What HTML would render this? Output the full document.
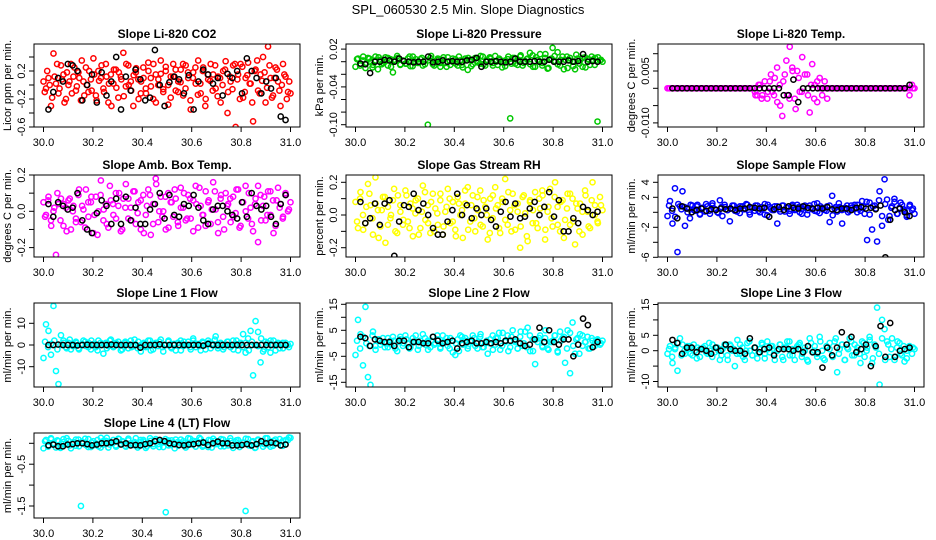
<!DOCTYPE html>
<html><head><meta charset="utf-8"><style>
html,body{margin:0;padding:0;background:#fff;}
svg{display:block;font-family:"Liberation Sans",Arial,sans-serif;}
</style></head><body>
<svg id="chart" width="936" height="540" viewBox="0 0 936 540" xmlns="http://www.w3.org/2000/svg">
<rect width="936" height="540" fill="#fff"/>
<text x="468" y="14" text-anchor="middle" font-size="13">SPL_060530  2.5 Min. Slope Diagnostics</text>
</svg>
<script>
// ---- data ----
const xTicks=[30.0,30.2,30.4,30.6,30.8,31.0];
const xTickLabels=["30.0","30.2","30.4","30.6","30.8","31.0"];
const panelTitles=["Slope Li-820 CO2","Slope Li-820 Pressure","Slope Li-820 Temp.","Slope Amb. Box Temp.","Slope Gas Stream RH","Slope Sample Flow","Slope Line 1 Flow","Slope Line 2 Flow","Slope Line 3 Flow","Slope Line 4 (LT) Flow"];
const yAxisTitles=["Licor ppm per min.","kPa per min.","degrees C per min.","degrees C per min.","percent per min.","ml/min per min.","ml/min per min.","ml/min per min.","ml/min per min.","ml/min per min."];
const co2Color=[0.05,-0.05,0.1,-0.3,0.45,0.02,-0.12,0.28,0.15,-0.2,0.0,0.3,0.12,-0.08,0.18,-0.22,0.05,0.25,-0.1,0.08,0.38,-0.15,0.2,0.1,-0.05,0.3,-0.25,0.15,0.02,0.22,-0.18,0.12,0.46,-0.02,0.28,0.05,-0.3,0.18,0.08,-0.12,0.25,-0.05,0.32,0.1,-0.2,0.15,0.0,0.35,-0.1,0.2,-0.28,0.12,0.3,-0.08,0.05,0.22,-0.15,0.28,0.1,-0.35,0.18,0.02,0.35,-0.12,0.25,-0.2,0.08,0.3,0.15,-0.05,0.12,-0.25,0.2,0.34,-0.1,0.05,0.28,-0.6,0.15,0.3,-0.18,0.1,0.32,0.02,-0.52,0.22,-0.08,0.15,0.4,-0.25,0.55,0.1,-0.15,0.25,0.05,-0.3,0.3,0.12,-0.1,-0.12];
const co2Color2=[-0.1,0.2,0.0,-0.18,0.12,0.3,-0.05,0.08,-0.25,0.18,0.05,-0.12,0.25,-0.02,0.1,0.35,-0.15,0.0,0.2,-0.08,0.15,-0.22,0.06,0.28,-0.1,0.12,0.02,-0.3,0.22,-0.04,0.18,0.08,-0.16,0.3,0.0,-0.08,0.14,0.24,-0.2,0.05,0.1,-0.12,0.2,-0.02,0.3,-0.25,0.08,0.16,-0.06,0.26,0.0,-0.18,0.12,0.22,-0.1,0.04,0.3,-0.05,0.18,-0.22,0.1,0.25,-0.14,0.02,0.2,-0.3,0.15,0.06,-0.08,0.28,-0.16,0.1,0.0,0.22,-0.4,0.12,-0.06,0.3,0.08,-0.2,0.26,-0.1,0.14,0.02,-0.25,0.2,0.35,-0.12,0.06,0.18,-0.04,0.28,-0.18,0.1,0.22,-0.08,0.0,0.15,-0.2,0.05];
const co2Black=[-0.35,-0.1,0.1,0.05,0.3,0.28,0.2,-0.22,0.0,0.15,-0.25,0.18,-0.15,0.05,0.4,-0.35,0.12,-0.08,0.22,0.08,-0.22,-0.18,0.5,0.0,-0.3,0.04,0.12,0.08,-0.12,0.14,-0.35,0.05,0.22,0.15,0.02,0.1,-0.15,0.16,0.1,0.2,-0.12,0.38,0.2,0.1,-0.12,0.05,-0.05,0.1,-0.45,-0.5];
const presColor=[-0.008,0.005,-0.003,0.002,-0.01,0.006,0.0,-0.005,0.008,-0.012,0.003,-0.002,0.007,-0.006,0.004,-0.017,0.001,0.006,-0.004,0.002,-0.003,0.005,-0.007,0.008,0.0,-0.002,0.004,-0.006,0.002,-0.1,0.006,-0.004,0.001,0.005,-0.008,0.003,-0.002,0.007,-0.005,0.0,0.004,-0.006,0.002,-0.009,0.005,-0.013,0.003,-0.004,0.006,0.001,-0.003,0.008,-0.006,0.002,0.005,-0.002,0.009,-0.005,0.003,0.0,-0.007,0.004,-0.09,0.006,-0.003,0.002,0.008,-0.006,0.001,0.005,-0.004,0.01,-0.008,0.003,0.012,-0.002,0.006,-0.011,0.004,0.022,0.001,0.015,-0.006,0.008,0.003,-0.01,0.006,0.0,-0.012,0.005,0.002,-0.008,0.007,0.004,-0.005,0.003,0.006,-0.095,0.002,0.0];
const presColor2=[0.004,-0.006,0.008,-0.002,0.005,-0.009,0.002,0.007,-0.004,0.0,0.006,-0.008,0.003,0.009,-0.005,0.001,-0.003,0.008,-0.007,0.004,-0.001,0.006,-0.004,0.002,0.009,-0.006,0.003,-0.002,0.007,-0.008,0.001,0.005,-0.003,0.008,-0.005,0.002,0.006,-0.007,0.004,-0.001,0.009,-0.004,0.003,0.007,-0.006,0.0,0.005,-0.009,0.002,0.008,-0.003,0.006,-0.005,0.01,-0.002,0.004,0.014,-0.008,0.007,0.001,-0.006,0.012,-0.01,0.005,0.009,-0.004,0.003,-0.012,0.008,0.002,-0.007,0.011,-0.003,0.006,-0.009,0.004,0.008,-0.005,0.007,0.003];
const presBlack=[-0.003,-0.004,-0.018,0.0,0.0,0.003,0.002,0.0,0.005,0.001,0.0,-0.001,0.0,0.0,0.008,-0.001,0.0,0.002,0.0,0.001,0.0,0.0,0.002,0.003,0.006,-0.008,0.0,0.0,0.001,0.0,-0.001,0.0,0.005,0.0,0.0,0.0,0.001,0.0,0.0,0.003,0.0,0.0,0.0,0.002,0.0,0.001,0.012,0.0,0.001,0.0];
const tempColor=[0,0,0,0,0,0,0,0,0,0,0,0,0,0,0,0,0,0,0,0,0,0,0,0,0,0,0,0,0,0,0,0,0,0,0,-0.001,-0.002,0.001,-0.002,0.0,-0.003,0.002,-0.001,0.003,-0.004,0.001,-0.008,0.004,-0.002,0.012,0.006,-0.003,0.005,-0.001,0.009,-0.012,0.004,-0.007,0.007,0.001,-0.004,0.003,-0.002,0.002,-0.003,0,0,0,0,0,0,0,0,0,0,0,0,0,0,0,0,0,0,0,0,0,0,0,0,0,0,0,0,0,0,0,0,-0.002,0.001,0];
const tempColor2=[0,0,0,0,0,0,0,0,0,0,0,0,0,0,0,0,0,0,0,0,0,0,0,0,0,0,0,0,-0.002,0.001,-0.003,0.002,-0.001,0.004,-0.002,0.006,-0.005,0.002,0.008,-0.003,0.005,-0.006,0.003,-0.001,0.004,-0.002,0.001,-0.003,0.002,0,0,0,0,0,0,0,0,0,0,0,0,0,0,0,0,0,0,0,0,0,0,0,0,0,0,0,0,0,0,0];
const tempBlack=[0,0,0,0,0,0,0,0,0,0,0,0,0,0,0,0,0,0,0,0,0,0,0,-0.002,-0.002,0.0025,-0.004,0,0,0,0,0,0,0,0,0,0,0,0,0,0,0,0,0,0,0,0,0,0,0.001];
const ambColor=[0.05,-0.02,0.08,-0.05,0.0,-0.24,0.04,0.07,-0.08,0.02,0.06,-0.1,0.03,-0.04,0.09,-0.06,0.01,0.12,-0.03,0.05,-0.12,0.08,0.0,0.17,-0.05,0.04,-0.09,0.06,-0.02,0.1,0.03,-0.11,0.07,0.15,-0.04,0.02,0.11,-0.07,0.05,-0.1,0.09,-0.02,0.12,-0.13,0.04,0.18,-0.06,0.08,0.0,-0.1,0.1,0.05,-0.03,0.07,-0.08,0.13,0.02,-0.05,0.09,-0.04,0.06,0.14,-0.09,0.03,-0.02,0.11,0.05,-0.07,0.16,0.01,-0.12,0.07,-0.03,0.1,0.04,-0.06,0.08,-0.01,0.12,-0.08,0.05,0.14,-0.04,0.02,-0.11,0.07,-0.17,0.09,0.03,-0.05,0.11,-0.02,0.06,-0.08,0.13,0.04,-0.03,0.1,0.0,0.05];
const ambColor2=[-0.03,0.06,-0.08,0.02,0.1,-0.05,0.04,-0.11,0.07,0.0,-0.06,0.12,0.03,-0.09,0.05,0.08,-0.02,-0.13,0.09,0.01,-0.07,0.14,0.04,-0.04,0.1,-0.1,0.02,0.07,-0.05,0.11,-0.01,0.06,-0.12,0.03,0.09,-0.07,0.15,0.0,-0.03,0.08,-0.09,0.05,0.12,-0.06,0.02,0.1,-0.04,0.07,-0.11,0.04,0.13,-0.02,-0.08,0.06,0.01,0.11,-0.06,0.09,-0.1,0.03,0.07,-0.03,0.12,-0.09,0.05,0.0,0.1,-0.07,0.04,0.14,-0.05,0.08,-0.02,0.11,-0.12,0.06,0.02,-0.04,0.09,0.01];
const ambBlack=[0.04,-0.03,0.05,0.03,0.01,0.02,0.1,-0.05,-0.1,-0.12,-0.01,0.06,0.03,-0.07,0.07,-0.07,0.08,-0.05,0.02,-0.07,-0.07,0.01,0.04,0.1,-0.04,0.09,-0.02,-0.03,0.04,0.03,0.09,0.02,-0.05,-0.07,0.01,0.03,0.03,0.0,-0.02,-0.04,0.05,-0.03,0.1,0.03,0.01,0.03,-0.03,-0.07,0.04,0.09];
const rhColor=[0.08,-0.08,0.14,0.0,-0.05,0.19,0.06,-0.12,0.23,0.03,-0.07,0.11,-0.17,0.05,-0.02,0.09,-0.1,0.12,0.02,-0.06,0.15,-0.04,0.07,-0.13,0.01,0.1,-0.08,0.18,-0.03,0.06,-0.11,0.13,0.04,-0.06,0.09,-0.12,0.02,0.16,-0.05,0.08,-0.09,0.11,0.0,-0.14,0.07,0.17,-0.04,0.12,-0.1,0.03,0.15,-0.07,0.05,-0.15,0.1,-0.02,0.17,0.06,-0.11,0.08,0.22,-0.06,0.03,0.13,-0.09,0.07,-0.2,0.11,0.01,-0.16,0.09,-0.05,0.14,-0.08,0.04,0.12,-0.15,0.02,0.16,-0.07,0.2,0.05,-0.1,0.09,-0.03,0.13,-0.06,0.1,-0.18,0.04,0.07,-0.12,0.15,0.02,-0.08,0.2,0.06,-0.04,0.11,0.03];
const rhColor2=[-0.04,0.1,-0.09,0.05,0.13,-0.02,0.07,-0.14,0.03,0.11,-0.06,0.0,0.16,-0.11,0.06,-0.03,0.12,-0.08,0.04,0.09,-0.12,0.02,0.14,-0.05,0.08,-0.1,0.01,0.13,-0.07,0.05,0.1,-0.04,-0.13,0.07,0.03,0.15,-0.09,0.06,-0.02,0.11,-0.06,0.09,0.0,-0.11,0.12,0.04,-0.08,0.1,-0.03,0.14,-0.1,0.06,0.02,-0.07,0.12,-0.13,0.08,0.03,-0.05,0.1,0.15,-0.09,0.05,-0.02,0.11,-0.06,0.08,-0.14,0.04,0.13,-0.04,0.07,-0.1,0.02,0.12,-0.07,0.09,0.0,-0.05,0.06];
const rhBlack=[0.08,-0.05,-0.02,0.07,-0.06,0.07,0.09,-0.25,-0.04,0.06,0.05,0.13,0.03,0.07,0.0,-0.08,-0.12,-0.12,-0.04,0.03,0.13,0.0,0.06,-0.02,0.04,0.0,0.04,-0.03,-0.07,0.02,0.08,-0.01,0.07,-0.02,-0.01,0.04,0.08,0.0,0.05,0.14,-0.01,0.09,-0.1,-0.1,-0.02,-0.05,0.05,0.03,0.0,0.02];
const flowColor=[-0.5,1.5,-1.5,3.2,-5.3,0.8,2.8,-1.8,0.5,-0.8,0.9,0.2,1.0,-0.3,0.6,0.1,0.8,-0.2,1.2,0.4,0.0,1.6,-0.5,0.7,0.3,-1.2,0.9,0.2,0.5,-0.1,0.8,0.4,1.0,-0.3,0.6,0.2,0.9,0.0,0.5,1.1,-0.4,0.7,0.3,0.8,-1.5,0.4,0.9,0.1,0.6,-0.2,0.8,0.3,1.0,0.0,0.5,0.7,-0.3,0.9,0.4,0.2,1.2,-0.1,0.6,0.3,0.8,-1.3,2.2,0.5,0.1,0.7,-1.5,0.4,0.9,0.2,0.6,1.0,0.0,0.5,1.5,-0.2,-3.7,1.3,-2.3,0.9,-3.9,2.8,-1.8,4.4,1.7,-0.5,0.8,1.4,-0.2,0.6,1.0,0.2,-0.4,0.8,0.3,-0.2];
const flowColor2=[0.9,0.2,-0.6,1.1,0.4,0.7,0.0,1.0,0.3,0.8,-0.2,0.6,1.1,0.2,0.9,0.4,-0.1,0.7,1.0,0.3,0.5,0.9,0.1,0.8,0.4,1.1,0.0,0.6,0.9,0.2,0.7,-0.3,1.0,0.5,0.3,0.8,0.1,0.9,0.6,0.2,1.0,0.4,0.7,-0.2,0.9,0.3,0.6,1.1,0.1,0.8,0.5,0.2,0.9,-0.4,0.7,1.2,0.3,0.6,0.0,0.9,0.4,1.0,0.2,0.7,1.4,-0.3,0.8,0.5,1.6,-0.5,1.1,-1.0,0.6,1.8,-0.2,1.3,0.4,-0.6,1.0,0.5];
const flowBlack=[0.5,-0.8,0.8,0.5,0.0,0.3,0.5,0.2,0.4,0.3,0.5,0.4,0.5,0.3,0.5,0.5,0.7,0.6,0.5,0.6,-0.6,0.4,0.7,0.3,0.8,0.6,0.5,0.8,0.6,0.5,0.6,0.5,0.7,0.4,0.3,0.5,0.5,0.3,0.6,0.7,0.5,0.6,0.4,0.9,-6.0,-1.0,0.3,0.5,0.0,-0.5];
const line1Color=[-6,9.5,6.5,-4.5,18,-12,-18,4.5,2,-1,1,-2,0.5,1.5,-1.5,0,2,-0.5,1,-2,0.5,-1,2,0,-4,1,-0.5,2.5,-1,0.5,1.5,-2.5,0,1,-1.5,2,-0.5,0,1.5,-3,0.5,-1,2,-2.5,0.5,1,-0.5,2.5,-3,0,1.5,-1,0.5,-2.5,1,2,-0.5,0,1.5,-2,3,-1,0.5,-2.5,1,0,2,-1.5,0.5,4,-0.5,1,-2,0,1.5,-1,2,0.5,-2.5,1,5,-3.5,3,6.5,-14,11,6,-8,-3,1.5,-1,2,0,-2.5,1,0.5,-1.5,1,0,0.5];
const line1Color2=[1.5,-1,0.5,2,-2,0,1,-1.5,2.5,-0.5,1,-2,0.5,1.5,-1,2,0,-2.5,1,0.5,-1.5,2,-0.5,1,0,-2,1.5,0.5,-1,2.5,-1.5,0,1,-0.5,2,-2,0.5,1.5,-1,0,2,-1.5,0.5,1,-2.5,1.5,0,-1,2,0.5,-0.5,1.5,-2,1,0,2.5,-1.5,0.5,-1,1.5,0,-2,2,0.5,-1,1,-2.5,1.5,0,-0.5,3,-2,1,-3.5,2,0.5,-1.5,1,0,-1];
const line1Black=[0,0,0.2,0,0,0,-0.2,0,0.1,0,0,0,0,0.2,0,0,0,0,0,-1.2,0,0,0,0.3,0,0,0,0,0,0,0,0,-0.3,0.5,0,0,0,0,0,0,0,0,0,0,0,0,0,0,0,0];
const line2Color=[-4.5,9,3.5,-8.5,14,-13,-16,4.5,-1,1.5,-0.5,2,0,-1.5,1,2.5,-2,0.5,1.5,-1,3,0,-1.5,2,0.5,-2.5,1,3.5,-0.5,1,-1.5,2.5,0,1.5,-2,3,0.5,-1,2,-3.5,-4.5,1.5,3,-0.5,2,-2,1,3,-1,0.5,2.5,-1.5,0,-4,1.5,3,-0.5,2,-2.5,4,1,3,-1.5,5,0.5,-2,2.5,-1,4.5,6,-3,1.5,-8,0.5,3,-1.5,2,-2,0.5,1,3,-3,4.5,2,-7.5,5,-11.5,8,-4,2,3.5,-1,0.5,2.5,-2,1,0,1.5,-0.5,1];
const line2Color2=[1,-2,2.5,0,-1,3,-2.5,1.5,0.5,-1.5,2,-0.5,1,-3,2.5,0,1.5,-2,0.5,3,-1,0,2,-2.5,1,-0.5,3,-1.5,0.5,2,-2,1,0,-3,2.5,1,-1,0.5,2,-2,3.5,-1.5,1,0,-2.5,2,4,-1,0.5,-3,2.5,1,-2,4.5,0,-1.5,3,-3,1.5,2,-1,5,-2.5,0.5,3,-3.5,1,2.5,-2,4,-1,1.5,-4,3,0.5,-2,2,-1,1,0];
const line2Black=[2.5,2,-1,1.5,1,0.5,0.5,-1,1,1,-1.5,0.5,0.5,0,0,2.5,1,0,0.5,1,-2,0,0.5,1,0,0,0.5,0,0.5,0,1,1,1.5,0,-1,-0.5,1.5,6,0.5,5,0.5,-0.5,1.5,1.5,-5,-0.5,9.5,7,-1.5,0.5];
const line3Color=[-1,1.5,-4,0.5,-6.5,4,2,-1,0.5,1.5,-1.5,0,1,-2,0.5,1.5,-1,0,2,-0.5,1,-3,0.5,1.5,-1.5,2,0,-5,3.5,-1,1,-3,2.5,0,-1.5,1,-2.5,0.5,2,-1,3,-0.5,1.5,-3,0,2,-2,1,3,-1.5,0.5,-3,1.5,2.5,-1,0,-3,4,-0.5,1.5,-2,4.5,0,-3,1,2.5,-1.5,3,-7,0.5,2,-3,1,4,-1.5,2,0,-1,3,-2,1,4.5,-4,2,14,-11,10,7,3,-2,4,-3,1,2.5,-1.5,-3.5,0,1.5,-1,0.5];
const line3Color2=[0.5,-2,1,2.5,-1.5,0,1.5,-1,2,-2.5,0.5,1,-0.5,2.5,-2,1,0,-1.5,2,-3,1.5,0.5,-1,2,-2,0,3,-1.5,1,-0.5,2.5,-2.5,0.5,1.5,-1,0,2,-3,1,3,-1.5,0.5,2,-2,1,-3.5,2.5,0,-1,3,-2.5,1.5,0.5,-2,4,-1,2,-3,0.5,3,-1.5,1,-4,2.5,0,3.5,-2.5,1,-1,4,-3,2,0.5,-2,3,-1,1.5,-2.5,0.5,1];
const line3Black=[3.5,2.5,-1,1,1,-0.5,0.5,0,-1,1,0,2,0.5,0,0,-1,4,1,-0.5,0.5,1,-1.5,0.5,0.5,0.5,0,0.5,-0.5,1.5,-0.5,-0.5,-5.5,1,-1.5,1,6,2,4.5,-0.5,0.5,2,-5,1.5,8,-2,9,-2,0,0.5,1];
const line4Color=[-0.12,0.08,-0.05,0.12,0.0,-0.1,0.05,-0.08,0.1,-0.02,0.06,-0.12,0.03,-0.06,0.09,-1.5,0.02,-0.04,0.1,-0.09,0.05,0.0,-0.07,0.13,-0.03,0.06,-0.1,0.02,0.08,-0.05,0.11,-0.01,0.04,-0.08,0.07,0.0,-0.04,0.12,-0.06,0.03,0.08,-0.11,0.01,0.06,-0.07,0.1,-0.02,0.04,-0.09,-1.65,0.07,-0.04,0.02,0.09,-0.06,0.0,0.05,-0.1,0.12,-0.03,0.06,-0.08,0.03,0.1,-0.05,0.01,-0.09,0.07,0.11,-0.02,0.04,-0.07,0.09,0.0,-0.05,0.06,-0.11,0.03,0.08,-0.04,0.02,-1.62,0.1,-0.06,0.05,-0.1,0.07,0.0,-0.08,0.12,-0.03,0.04,-0.06,0.09,0.01,-0.05,0.06,-0.02,0.08,0.13];
const line4Color2=[0.05,-0.08,0.1,-0.02,0.07,-0.11,0.03,0.12,-0.05,0.0,0.09,-0.07,0.04,0.11,-0.09,0.02,-0.04,0.08,-0.1,0.06,0.13,-0.03,0.01,-0.08,0.1,0.05,-0.06,0.11,-0.01,0.03,-0.1,0.08,0.04,-0.07,0.12,-0.02,0.06,-0.09,0.02,0.1,-0.05,0.07,-0.12,0.03,0.09,0.0,-0.06,0.11,-0.03,0.05,0.13,-0.08,0.02,0.08,-0.1,0.06,-0.01,0.1,-0.07,0.04,0.12,-0.04,0.07,-0.09,0.01,0.11,-0.05,0.03,-0.11,0.09,0.05,-0.02,0.12,-0.08,0.06,0.0,0.1,-0.06,0.08,0.14];
const line4Black=[-0.05,-0.03,-0.07,-0.07,-0.03,-0.02,0.0,0.0,-0.02,-0.05,-0.03,0.0,0.0,0.02,0.05,-0.03,0.0,-0.05,-0.04,-0.05,-0.02,0.0,0.05,0.08,0.05,0.0,-0.02,-0.04,-0.05,-0.03,-0.02,0.0,0.02,-0.04,0.0,0.04,0.0,0.0,-0.05,-0.05,-0.04,-0.02,-0.05,-0.02,0.05,0.0,0.02,0.0,-0.05,-0.03];
const yTicks=[[-0.6,-0.4,-0.2,0,0.2,0.4],[-0.1,-0.08,-0.06,-0.04,-0.02,0,0.02],[-0.01,-0.005,0,0.005,0.01],[-0.2,-0.1,0,0.1,0.2],[-0.2,-0.1,0,0.1,0.2],[-6,-4,-2,0,2,4],[-10,0,10],[-15,-10,-5,0,5,10,15],[-10,-5,0,5,10,15],[-1.5,-1,-0.5,0]];
const yTickLabels=[["-0.6","","-0.2","","0.2",""],["-0.10","","","-0.04","","","0.02"],["-0.010","","","0.005",""],["-0.2","","0.0","","0.2"],["-0.2","","0.0","","0.2"],["-6","","-2","","2","4"],["-10","0","10"],["-15","","-5","","5","","15"],["-10","","0","5","","15"],["-1.5","","-0.5",""]];

// ---- layout (pixel geometry, not data) ----
const colX=[34,346,658], rowY=[44,175,303,433], boxW=266;
const boxH=[83,82,84,85];
const yCal=[[0,85,0.2,71],[0,61.7,0.02,49.1],[0,88.3,0.005,71],[0,211.3,0.2,175],[0,215,0.2,182.3],[0,212.3,4,182.3],[0,345,10,323.3],[0,343.3,15,304.3],[0,350.7,15,304.5],[0,443.3,-1.5,506]];
const panels=[
 {c:0,r:0,col:"#ff0000",data:co2Color,data2:co2Color2,blk:co2Black,name:"co2"},
 {c:1,r:0,col:"#00c800",data:presColor,data2:presColor2,blk:presBlack,name:"pressure"},
 {c:2,r:0,col:"#ff00ff",data:tempColor,data2:tempColor2,blk:tempBlack,name:"licor-temp"},
 {c:0,r:1,col:"#ff00ff",data:ambColor,data2:ambColor2,blk:ambBlack,name:"amb-box-temp"},
 {c:1,r:1,col:"#ffff00",data:rhColor,data2:rhColor2,blk:rhBlack,name:"gas-stream-rh"},
 {c:2,r:1,col:"#0000ff",data:flowColor,data2:flowColor2,blk:flowBlack,name:"sample-flow"},
 {c:0,r:2,col:"#00ffff",data:line1Color,data2:line1Color2,blk:line1Black,name:"line-1-flow"},
 {c:1,r:2,col:"#00ffff",data:line2Color,data2:line2Color2,blk:line2Black,name:"line-2-flow"},
 {c:2,r:2,col:"#00ffff",data:line3Color,data2:line3Color2,blk:line3Black,name:"line-3-flow"},
 {c:0,r:3,col:"#00ffff",data:line4Color,data2:line4Color2,blk:line4Black,name:"line-4-flow"}
];
const svg=document.getElementById('chart');
const NS="http://www.w3.org/2000/svg";
function mk(tag,attrs,parent){const e=document.createElementNS(NS,tag);for(const k in attrs)e.setAttribute(k,attrs[k]);parent.appendChild(e);return e;}

panels.forEach((p,pi)=>{
  const bx=colX[p.c], by=rowY[p.r], bh=boxH[p.r];
  const xs=v=>bx+9.5+(v-30)*(boxW-19);
  const cal=yCal[pi];
  const ys=v=>cal[1]+(v-cal[0])*(cal[3]-cal[1])/(cal[2]-cal[0]);
  const g=mk('g',{},svg);
  
  
  const t=mk('text',{x:bx+boxW/2,y:by-6,'text-anchor':'middle','font-size':'12','font-weight':'bold'},g);
  t.textContent=panelTitles[pi];
  
  
  const clip=mk('clipPath',{id:'cp'+pi},g);
  mk('rect',{x:bx,y:by,width:boxW,height:bh},clip);
  const pts=mk('g',{'clip-path':'url(#cp'+pi+')'},g);
  
  
  const n=p.data.length;
  p.data.forEach((v,i)=>{
    const c=mk('circle',{cx:xs(30+i/(n-1)),cy:ys(v),r:2.6,fill:'none',stroke:p.col,'stroke-width':1.5},pts);
    
    
  });
  const n2=p.data2.length;
  p.data2.forEach((v,i)=>{
    const c=mk('circle',{cx:xs(30+(i+0.5)/n2),cy:ys(v),r:2.6,fill:'none',stroke:p.col,'stroke-width':1.5},pts);
    
    
  });
  const m=p.blk.length;
  p.blk.forEach((v,i)=>{
    const c=mk('circle',{cx:xs(30.02+i*0.96/(m-1)),cy:ys(v),r:2.6,fill:'none',stroke:'#000','stroke-width':1.5},pts);
    
    
  });
  const box=mk('rect',{x:bx,y:by,width:boxW,height:bh,fill:'none',stroke:'#000','stroke-width':1},g);
  
  
  xTicks.forEach((v,i)=>{
    const x=xs(v);
    mk('line',{x1:x,y1:by+bh,x2:x,y2:by+bh+5,stroke:'#000'},g);
    const tl=mk('text',{x:x,y:by+bh+19,'text-anchor':'middle','font-size':'11'},g);
    tl.textContent=xTickLabels[i];
    
    
  });
  yTicks[pi].forEach((v,i)=>{
    const y=ys(v);
    mk('line',{x1:bx-5,y1:y,x2:bx,y2:y,stroke:'#000'},g);
    const lab=yTickLabels[pi][i];
    if(lab){
      const tl=mk('text',{x:bx-9,y:y,'text-anchor':'middle','font-size':'11',transform:'rotate(-90 '+(bx-9)+' '+y+')'},g);
      tl.textContent=lab;
      
      
    }
  });
  const yt=mk('text',{x:bx-23,y:by+bh/2,'text-anchor':'middle','font-size':'11',transform:'rotate(-90 '+(bx-23)+' '+(by+bh/2)+')'},g);
  yt.textContent=yAxisTitles[pi];
  
  
});
</script>
</body></html>
